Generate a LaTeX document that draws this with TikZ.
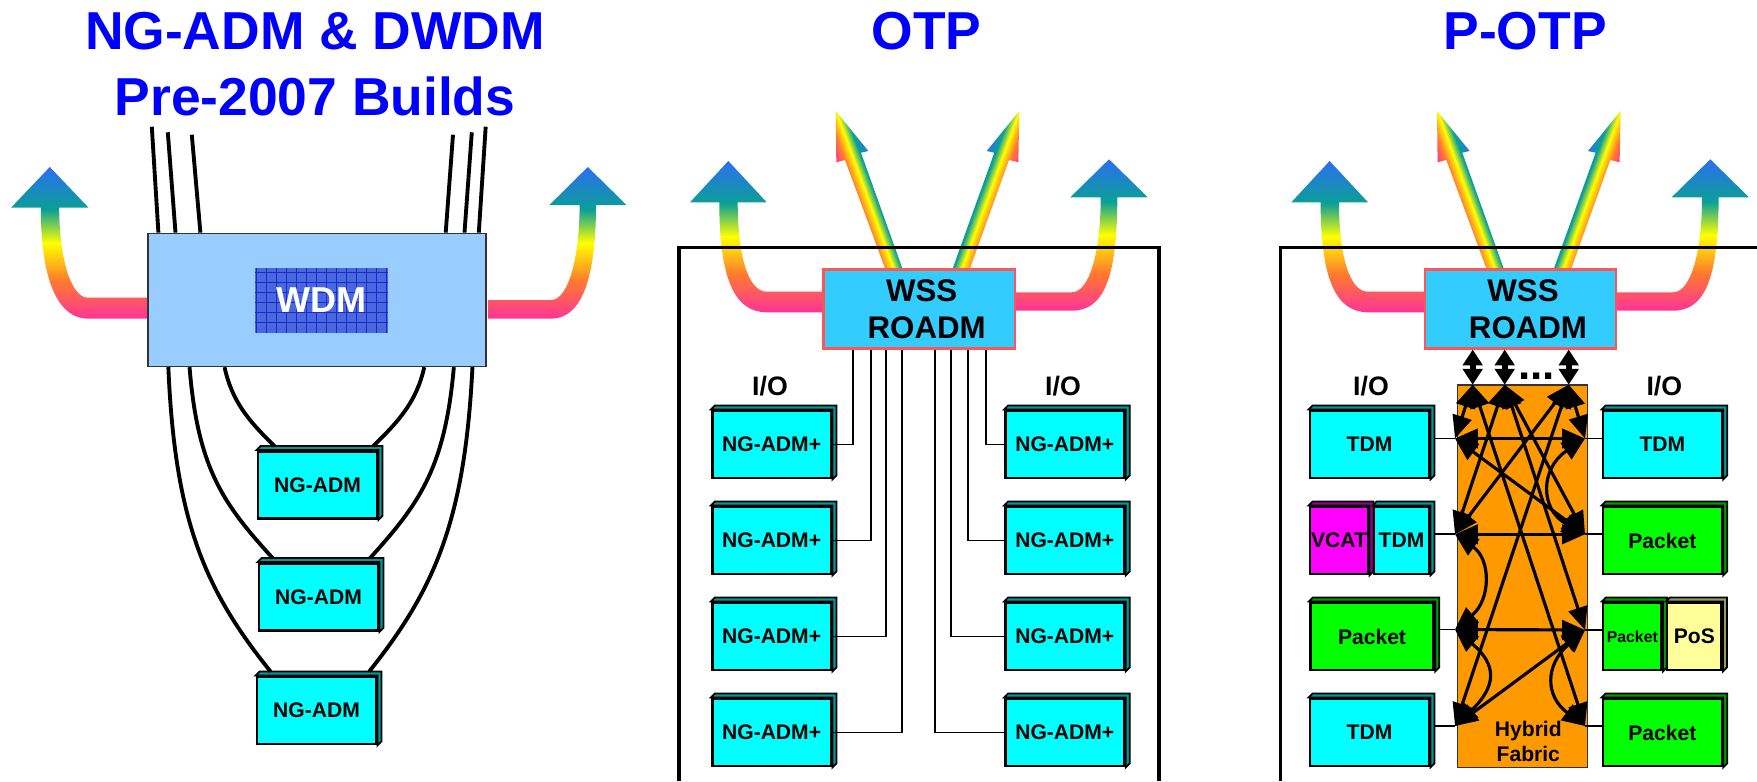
\documentclass[tikz,border=0pt]{standalone}
\usepackage{fontspec}
\setmainfont{Liberation Sans}
\usepackage{tikz}
\usetikzlibrary{arrows.meta,positioning,calc}

\definecolor{rbpink}{HTML}{FF3399}
\definecolor{rborange}{HTML}{FF7A2E}
\definecolor{rbyellow}{HTML}{FFFF00}
\definecolor{rbteal}{HTML}{0AA096}
\definecolor{rbblue}{HTML}{2D6EF0}
\definecolor{wdmblue}{HTML}{99CCFF}
\definecolor{gridblue}{HTML}{4A68DE}
\definecolor{gridline}{HTML}{1A2AD0}
\definecolor{wssblue}{HTML}{33CCFF}
\definecolor{wssred}{HTML}{FF5555}
\definecolor{fabricorange}{HTML}{FF9900}
\definecolor{posyellow}{HTML}{FFFF99}
\definecolor{admcyan}{RGB}{0,255,255}
\definecolor{vcatpink}{RGB}{255,0,255}
\definecolor{pktgreen}{RGB}{0,255,0}
\definecolor{titleblue}{RGB}{0,0,255}

\pgfdeclareverticalshading{riseshade}{100bp}{color(0bp)=(rbpink); color(25bp)=(rbpink); color(37.5bp)=(rborange);
  color(50bp)=(rbyellow); color(61bp)=(rbteal); color(75bp)=(rbblue); color(100bp)=(rbblue)}
\pgfdeclarehorizontalshading{rayshade}{100bp}{color(0bp)=(rbpink); color(25bp)=(rbpink); color(37.5bp)=(rborange);
  color(50bp)=(rbyellow); color(61bp)=(rbteal); color(75bp)=(rbblue); color(100bp)=(rbblue)}

\tikzset{
  card/.style={draw=black, line width=1.6pt, fill=#1, inner sep=0pt,
    minimum width=2.38cm, minimum height=1.34cm, font=\bfseries\fontsize{12}{14}\selectfont,
    append after command={\pgfextra{
      \draw[line width=1pt, fill=#1!60!black] (\tikzlastnode.north west) -- ++(4,-4)
        -- ($(\tikzlastnode.north east)+(4,-4)$) -- ($(\tikzlastnode.south east)+(4,-4)$)
        -- (\tikzlastnode.south east) -- (\tikzlastnode.north east) -- cycle;}}},
  heading/.style={text=titleblue, align=center, font=\bfseries\fontsize{30.4}{37.6}\selectfont},
  iolabel/.style={font=\bfseries\fontsize{15.2}{18}\selectfont},
  wire/.style={line width=2.2pt},
  thinwire/.style={line width=1.1pt},
  stub/.style={line width=1.1pt, shorten <=2.5pt},
  link/.style={line width=1.8pt, {Triangle[length=13pt,width=11pt]}-{Triangle[length=13pt,width=11pt]}},
  bus/.style={line width=3.4pt, {Triangle[length=9pt,width=11pt]}-{Triangle[length=9pt,width=11pt]}},
  wssbox/.style={draw=wssred, line width=1.2pt, fill=wssblue, inner sep=0pt, align=center,
    minimum width=3.83cm, minimum height=1.58cm, font=\bfseries\fontsize{17.8}{21}\selectfont},
  frame/.style={line width=1.8pt}
}

\begin{document}
\begin{tikzpicture}[x=0.02cm, y=-0.02cm]
  \useasboundingbox (0,0) rectangle (1757,781);

  % titles
  \node[heading] (titleA) at (315,64) {NG-ADM \& DWDM\\Pre-2007 Builds};
  \node[heading] (titleB) at (926.6,31) {OTP};
  \node[heading] (titleC) at (1525,31) {P-OTP};

  % wavelength arrows, first panel
  \shade[shading=riseshade] (147.3,318.7) -- (88,318.7) .. controls (60,318.7) and (40.8,285) .. (40.8,207.7)
    -- (11,207.7) -- (49.8,167) -- (88.6,207.7) -- (59.2,207.7)
    .. controls (59.2,255) and (70,297.7) .. (88,297.7) -- (147.3,297.7) -- cycle;
  \shade[shading=riseshade] (488,318.7) -- (551,318.7) .. controls (579,318.7) and (596,285) .. (596,205)
    -- (626.5,205) -- (587.8,167) -- (549.4,205) -- (579.6,205)
    .. controls (579.6,255) and (569,300) .. (551,300) -- (488,300) -- cycle;

  % wavelength arrows, second panel
  \shade[shading=riseshade] (822.5,312.3) -- (766.7,312.3) .. controls (735,312.3) and (719.3,280) .. (719.3,202.3)
    -- (690,202.3) -- (728.3,161) -- (766.7,202.3) -- (737.7,202.3)
    .. controls (737.7,255) and (748,291.7) .. (766.7,291.7) -- (822.5,291.7) -- cycle;
  \shade[shading=riseshade] (1016,310.7) -- (1071.7,310.7) .. controls (1103,310.7) and (1117.3,280) .. (1117.3,197.3)
    -- (1147.7,197.3) -- (1109,159.3) -- (1070.3,197.3) -- (1100.7,197.3)
    .. controls (1100.7,250) and (1090,292.3) .. (1071.7,292.3) -- (1016,292.3) -- cycle;
  \begin{scope}
    \clip (885,268.3) -- (845,160) -- (836.3,162.3) -- (835.7,111) -- (868.3,151) -- (861,152.7) -- (902.3,268.3) -- cycle;
    \shade[shading=rayshade, transform canvas={shift={(864.8,190)},rotate=20}] (-17.5,-100) rectangle (17.5,100);
  \end{scope}
  \begin{scope}
    \clip (970,268.3) -- (1009,160) -- (1018.3,162.3) -- (1019.3,111) -- (986.7,151) -- (994.3,152.7) -- (952.7,268.3) -- cycle;
    \shade[shading=rayshade, transform canvas={shift={(990.2,190)},rotate=160}] (-17.5,-100) rectangle (17.5,100);
  \end{scope}

  % wavelength arrows, third panel
  \shade[shading=riseshade] (1423.8,312.3) -- (1368,312.3) .. controls (1336.3,312.3) and (1320.6,280) .. (1320.6,202.3)
    -- (1291.3,202.3) -- (1329.6,161) -- (1368,202.3) -- (1339,202.3)
    .. controls (1339,255) and (1349.3,291.7) .. (1368,291.7) -- (1423.8,291.7) -- cycle;
  \shade[shading=riseshade] (1617.3,310.7) -- (1673,310.7) .. controls (1704.3,310.7) and (1718.6,280) .. (1718.6,197.3)
    -- (1749,197.3) -- (1710.3,159.3) -- (1671.6,197.3) -- (1702,197.3)
    .. controls (1702,250) and (1691.3,292.3) .. (1673,292.3) -- (1617.3,292.3) -- cycle;
  \begin{scope}
    \clip (1486.3,268.3) -- (1446.3,160) -- (1437.6,162.3) -- (1437,111) -- (1469.6,151) -- (1462.3,152.7) -- (1503.6,268.3) -- cycle;
    \shade[shading=rayshade, transform canvas={shift={(1466.1,190)},rotate=20}] (-17.5,-100) rectangle (17.5,100);
  \end{scope}
  \begin{scope}
    \clip (1571.3,268.3) -- (1610.3,160) -- (1619.6,162.3) -- (1620.6,111) -- (1588,151) -- (1595.6,152.7) -- (1554,268.3) -- cycle;
    \shade[shading=rayshade, transform canvas={shift={(1591.5,190)},rotate=160}] (-17.5,-100) rectangle (17.5,100);
  \end{scope}

  % panel frames
  \draw[frame] (679,781) |- (1159,247.7) -- (1159,781);
  \draw[frame] (1280.7,781) |- (1757,247.7);

  % first panel
  \node[draw=black!80, line width=0.9pt, fill=wdmblue, minimum width=6.76cm, minimum height=2.66cm, inner sep=0pt] (wdm) at (316.9,299.9) {};
  \node[fill=gridblue, minimum width=2.66cm, minimum height=1.29cm, inner sep=0pt, text=white,
    font=\bfseries\fontsize{20.5}{24}\selectfont,
    path picture={\draw[gridline, line width=0.4pt, step=0.2cm] (path picture bounding box.south west) grid (path picture bounding box.north east);}] (wdmcore) at (321.5,300.3) {WDM};
  \node[card=admcyan] (ngA) at (317.5,485) {NG-ADM};
  \node[card=admcyan] (ngB) at (318.5,597) {NG-ADM};
  \node[card=admcyan] (ngC) at (316.5,710.5) {NG-ADM};

  \coordinate (fibA) at (151.8,126.7);
  \coordinate (fibB) at (167.8,132.3);
  \coordinate (fibC) at (191.8,134.7);
  \coordinate (fibD) at (453,134.7);
  \coordinate (fibE) at (471.8,132.3);
  \coordinate (fibF) at (485.7,126.7);
  \draw[wire] (fibA) -- (wdm.north west -| 158.4,0);
  \draw[wire] (fibB) -- (wdm.north west -| 175.5,0);
  \draw[wire] (fibC) -- (wdm.north west -| 200.4,0);
  \draw[wire] (fibD) -- (wdm.north west -| 445.7,0);
  \draw[wire] (fibE) -- (wdm.north west -| 464.5,0);
  \draw[wire] (fibF) -- (wdm.north west -| 478.8,0);

  \draw[wire] ($(wdm.south west)+(77.4,0)$) .. controls +(7.3,33.3) and +(-27,-26) .. ($(ngA.north west)+(18,-4)$);
  \draw[wire] ($(wdm.south west)+(42.4,0)$) .. controls +(8.3,103.3) and +(-48,-53) .. ($(ngB.north west)+(15,-4)$);
  \draw[wire] ($(wdm.south west)+(21.2,0)$) .. controls +(6.5,153.3) and +(-66,-82) .. ($(ngC.north west)+(15,-4)$);
  \draw[wire] ($(wdm.south west)+(277.1,0)$) .. controls +(-7.4,33.3) and +(27,-26) .. ($(ngA.north west)+(116.5,-4)$);
  \draw[wire] ($(wdm.south west)+(306.7,0)$) .. controls +(-9,103.3) and +(47.5,-53) .. ($(ngB.north west)+(112.5,-4)$);
  \draw[wire] ($(wdm.south west)+(325.3,0)$) .. controls +(-7.6,153.3) and +(65.5,-82) .. ($(ngC.north west)+(113.5,-4)$);

  % second panel
  \node[wssbox] (wssB) at (919.2,309) {\hspace*{2.85pt}WSS\\\hspace*{8.5pt}ROADM};
  \node[iolabel] (ioBl) at (770,386) {I/O};
  \node[iolabel] (ioBr) at (1063,386) {I/O};
  \node[card=admcyan] (admla) at (771.6,444.5) {NG-ADM+};
  \node[card=admcyan] (admlb) at (771.6,540.5) {NG-ADM+};
  \node[card=admcyan] (admlc) at (771.6,636.5) {NG-ADM+};
  \node[card=admcyan] (admld) at (771.6,732.5) {NG-ADM+};
  \node[card=admcyan] (admra) at (1064.8,444.5) {NG-ADM+};
  \node[card=admcyan] (admrb) at (1064.8,540.5) {NG-ADM+};
  \node[card=admcyan] (admrc) at (1064.8,636.5) {NG-ADM+};
  \node[card=admcyan] (admrd) at (1064.8,732.5) {NG-ADM+};

  \draw[thinwire] (admla.east) -| ($(wssB.south west)+(30.2,0)$);
  \draw[thinwire] (admlb.east) -| ($(wssB.south west)+(48.5,0)$);
  \draw[thinwire] (admlc.east) -| ($(wssB.south west)+(63.8,0)$);
  \draw[thinwire] (admld.east) -| ($(wssB.south west)+(79.8,0)$);
  \draw[thinwire] (admra.west) -| ($(wssB.south west)+(163.8,0)$);
  \draw[thinwire] (admrb.west) -| ($(wssB.south west)+(145.8,0)$);
  \draw[thinwire] (admrc.west) -| ($(wssB.south west)+(128.8,0)$);
  \draw[thinwire] (admrd.west) -| ($(wssB.south west)+(112.8,0)$);

  % third panel
  \node[wssbox] (wssC) at (1520.5,309) {\hspace*{2.85pt}WSS\\\hspace*{8.5pt}ROADM};
  \node[iolabel] (ioCl) at (1371,386) {I/O};
  \node[iolabel] (ioCr) at (1664.3,386) {I/O};
  \node[draw=black!80, line width=0.9pt, fill=fabricorange, minimum width=2.6cm, minimum height=7.66cm, inner sep=0pt] (fabric) at (1522.3,576.2) {};
  \node[font=\bfseries\fontsize{12}{14.2}\selectfont, align=center] (fabriclabel) at (1528.3,741) {Hybrid\\Fabric};

  \node[card=admcyan] (tdmla) at (1369.5,444.5) {TDM};
  \node[card=vcatpink, minimum width=1.16cm] (vcat) at (1339,540.5) {VCAT};
  \node[card=admcyan, minimum width=1.1cm] (tdmlb) at (1401.5,540.5) {TDM};
  \node[card=pktgreen, minimum width=2.47cm] (pktla) at (1372,636.5) {Packet};
  \node[card=admcyan] (tdmld) at (1369.5,732.5) {TDM};
  \node[card=admcyan] (tdmr) at (1662.4,444.5) {TDM};
  \node[card=pktgreen] (pktra) at (1662.4,540.5) {Packet};
  \node[card=pktgreen, minimum width=1.17cm, font=\bfseries\fontsize{9}{11}\selectfont] (pktrb) at (1632.3,636.5) {Packet};
  \node[card=posyellow, minimum width=1.09cm] (pos) at (1694.3,636.5) {PoS};
  \node[card=pktgreen] (pktrc) at (1662.4,732.5) {Packet};

  \coordinate (fta) at (1472.7,384.7);
  \coordinate (ftb) at (1504.7,384.7);
  \coordinate (ftc) at (1568.7,384.7);
  \coordinate (fla) at (1455,438.5);
  \coordinate (flb) at (1455,534.3);
  \coordinate (flc) at (1455,629.5);
  \coordinate (fld) at (1455,726);
  \coordinate (fra) at (1585,438.5);
  \coordinate (frb) at (1585,534.3);
  \coordinate (frc) at (1585,630);
  \coordinate (frd) at (1585,726);

  \draw[bus] (fta) -- (fta |- wssC.south);
  \draw[bus] (ftb) -- (ftb |- wssC.south);
  \draw[bus] (ftc) -- (ftc |- wssC.south);
  \node[anchor=base, font=\bfseries\fontsize{25}{25}\selectfont] (moredots) at (1536.7,379.5) {...};

  \draw[stub] (tdmla.east |- fla) -- (fla);
  \draw[stub] (tdmlb.east |- flb) -- (flb);
  \draw[stub] (pktla.east |- flc) -- (flc);
  \draw[stub] (tdmld.east |- fld) -- (fld);
  \draw[thinwire] (tdmr.west |- fra) -- (fra);
  \draw[thinwire] (pktra.west |- frb) -- (frb);
  \draw[thinwire] (pktrb.west |- frc) -- (frc);
  \draw[thinwire] (pktrc.west |- frd) -- (frd);

  \draw[link] (fta) -- (fla);
  \draw[link] (fta) -- (frd);
  \draw[link] (ftb) -- (flb);
  \draw[link] (ftb) -- (frb);
  \draw[link] (ftb) -- (frc);
  \draw[link] (ftc) -- (fra);
  \draw[link] (ftc) -- (flb);
  \draw[link] (ftc) -- (fld);
  \draw[link] (fla) -- (fra);
  \draw[link] (fla) -- (frb);
  \draw[link] (flb) -- (frb);
  \draw[link] (flc) -- (frc);
  \draw[link] (fld) -- (frc);
  \draw[link] (flb) .. controls +(36,25) and +(36,-30) .. (flc);
  \draw[link] (flc) .. controls +(42,35) and +(42,-40) .. (fld);
  \draw[link] (fra) .. controls +(-45,30) and +(-45,-25) .. (frb);
  \draw[link] (frc) .. controls +(-40,35) and +(-40,-30) .. (frd);
\end{tikzpicture}
\end{document}
